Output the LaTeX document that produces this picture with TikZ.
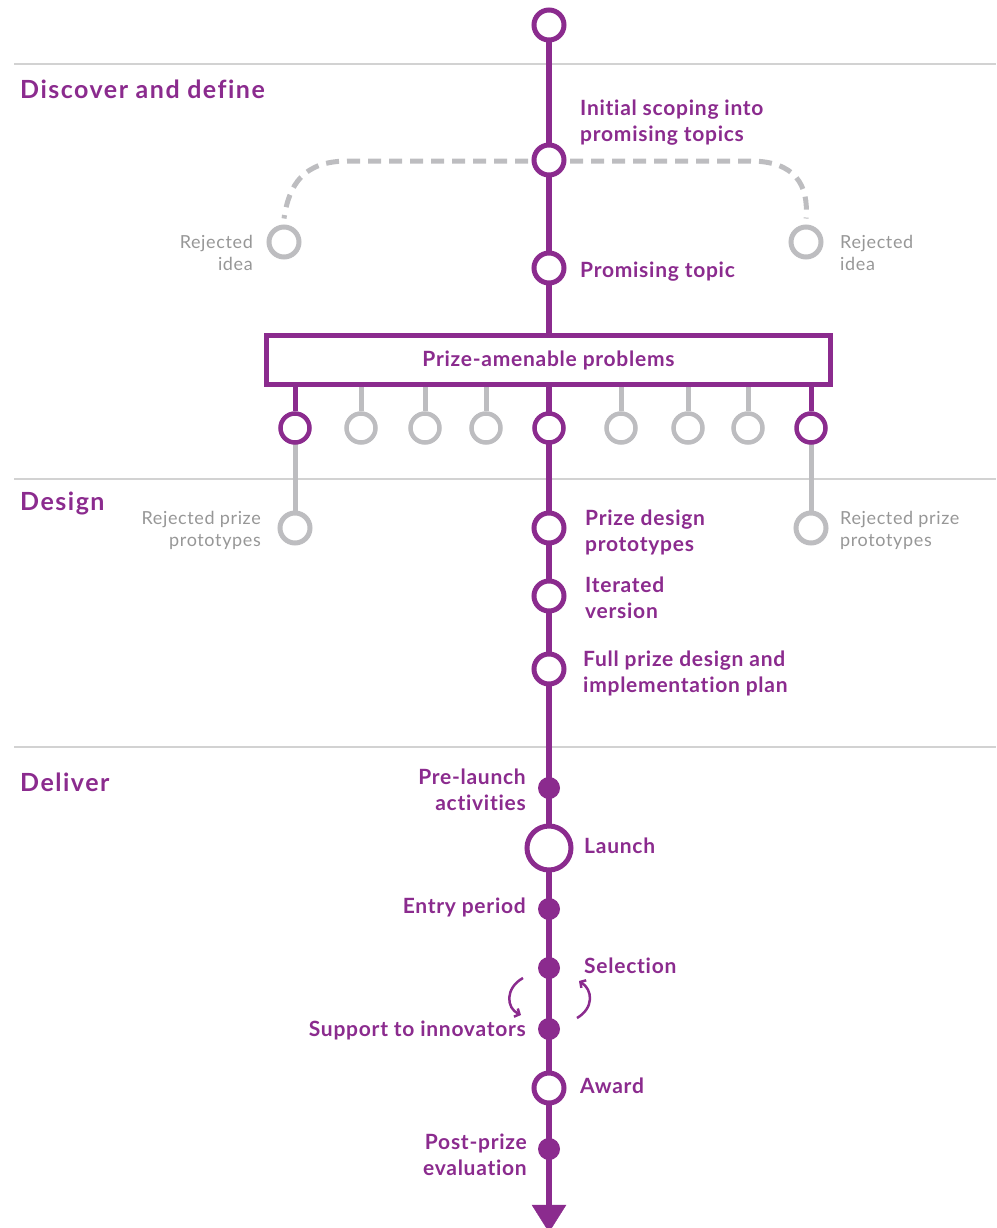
\documentclass[tikz,border=0pt]{standalone}
\usepackage{fontspec}
\setmainfont{Lato}
\newfontfamily\labfont[LetterSpace=3.5,Ligatures=NoCommon]{Lato}
\newfontfamily\headfont[LetterSpace=6,Ligatures=NoCommon]{Lato}
\newfontfamily\rejfont[LetterSpace=3.5,Ligatures=NoCommon]{Lato}
\usetikzlibrary{arrows.meta}
\definecolor{pur}{HTML}{8B2B8E}
\definecolor{gring}{HTML}{BDBDC0}
\definecolor{gtext}{HTML}{979797}
\definecolor{sep}{HTML}{D2D2D2}
\begin{document}
\begin{tikzpicture}[x=1pt,y=-1pt,
  ring/.style={circle,draw=pur,line width=5pt,fill=white,minimum size=30pt,inner sep=0},
  sring/.style={circle,draw=pur,line width=4.5pt,fill=white,minimum size=29pt,inner sep=0},
  gsring/.style={sring,draw=gring},
  gring/.style={ring,draw=gring},
  bigring/.style={ring,minimum size=44pt},
  dot/.style={circle,fill=pur,minimum size=22pt,inner sep=0},
  mainline/.style={draw=pur,line width=6.5pt},
  pstem/.style={draw=pur,line width=5pt},
  gstem/.style={draw=gring,line width=5pt},
  gdash/.style={draw=gring,line width=5pt,dash pattern=on 13pt off 8pt},
  seprule/.style={draw=sep,line width=1.5pt},
  head/.style={font=\headfont\bfseries\fontsize{25}{28}\selectfont,text=pur,inner sep=0,anchor=base west},
  lab/.style={font=\labfont\bfseries\fontsize{21}{26}\selectfont,text=pur,inner sep=0,align=left},
  labr/.style={lab,align=right},
  rej/.style={font=\rejfont\fontsize{18}{22}\selectfont,text=gtext,inner sep=0,align=left},
  rejr/.style={rej,align=right},
  probbox/.style={draw=pur,line width=5pt,fill=white,minimum width=564pt,minimum height=49pt,inner sep=0,
    font=\labfont\bfseries\fontsize{21}{24}\selectfont,text=pur},
  curv/.style={draw=pur,line width=2.5pt,-{Straight Barb[length=4pt,width=9pt]}}
]
\useasboundingbox (0,0) rectangle (996,1228);
% separators
\coordinate (s1a) at (14,64); \coordinate (s1b) at (996,64);
\coordinate (s2a) at (14,479); \coordinate (s2b) at (996,479);
\coordinate (s3a) at (14,747); \coordinate (s3b) at (996,747);
\draw[seprule] (s1a) -- (s1b);
\draw[seprule] (s2a) -- (s2b);
\draw[seprule] (s3a) -- (s3b);
% headings
\node[head] (h1) at (20,99) {Discover and define};
\node[head] (h2) at (20,510) {Design};
\node[head] (h3) at (20,791) {Deliver};
% helper coordinates
\coordinate (endpt) at (549,1232);
\coordinate (dl) at (348,161);
\coordinate (dr) at (750,161);
% main line
\draw[mainline] (549,25) -- (549,1205);
\draw[pur,fill=pur] (532,1205) -- (566,1205) -- (endpt) -- cycle;
% dashed rejected
\node[gring] (r1) at (284,242) {};
\node[gring] (r2) at (806,242) {};
\draw[gdash] (549,161) -- (dl) .. controls (303,161) and (289,185) .. ([yshift=6pt]r1.north);
\draw[gdash] (549,161) -- (dr) .. controls (795,161) and (809,185) .. ([yshift=6pt]r2.north);
% nodes
\node[ring] (t0) at (549,25) {};
\node[ring] (t1) at (549,160) {};
\node[ring] (t2) at (549,268) {};
\node[probbox] (box) at (548.5,360) {Prize-amenable problems};
% box circles
\foreach \n/\x/\s in {b2/361/gsring,b3/425/gsring,b4/486/gsring,b6/621/gsring,b7/688/gsring,b8/748/gsring}{
  \node[\s] (\n) at (\x,428) {};
  \draw[gstem] (box.south -| \n) -- (\n);
}
\node[gring] (r3) at (295,528) {};
\node[gring] (r4) at (811,528) {};
\draw[gstem] (295,428) -- (r3);
\draw[gstem] (811,428) -- (r4);
\foreach \n/\x in {b1/295,b9/811}{
  \node[sring] (\n) at (\x,428) {};
  \draw[pstem] (box.south -| \n) -- (\n);
}
\node[sring] (b5) at (549,428) {};
\node[ring] (d1) at (549,528) {};
\node[ring] (d2) at (549,596) {};
\node[ring] (d3) at (549,669) {};
\node[dot] (e1) at (549,788) {};
\node[bigring] (e2) at (549,848) {};
\node[dot] (e3) at (549,909) {};
\node[dot] (e4) at (549,968) {};
\node[dot] (e5) at (549,1029) {};
\node[ring] (e6) at (549,1088) {};
\node[dot] (e7) at (549,1149) {};
% curved arrows
\coordinate (ca1) at (523,978); \coordinate (ca2) at (521,1015);
\coordinate (cb1) at (577,1018); \coordinate (cb2) at (579,981);
\draw[curv] (ca1) .. controls (505,988) and (506,1008) .. (ca2);
\draw[curv] (cb1) .. controls (594,1008) and (593,990) .. (cb2);
% labels (multi-line: anchor at baseline of last line)
\node[lab,anchor=base west] (l1) at (580,142) {Initial scoping into\\promising topics};
\node[lab,anchor=base west] (l2) at (580,277) {Promising topic};
\node[rejr,anchor=base east] (lr1) at (253,270) {Rejected\\idea};
\node[rej,anchor=base west] (lr2) at (840,270) {Rejected\\idea};
\node[rejr,anchor=base east] (lr3) at (261,546) {Rejected prize\\prototypes};
\node[rej,anchor=base west] (lr4) at (840,546) {Rejected prize\\prototypes};
\node[lab,anchor=base west] (l3) at (585,551) {Prize design\\prototypes};
\node[lab,anchor=base west] (l4) at (585,618) {Iterated\\version};
\node[lab,anchor=base west] (l5) at (583,692) {Full prize design and\\implementation plan};
\node[labr,anchor=base east] (l6) at (526,810) {Pre-launch\\activities};
\node[lab,anchor=base west] (l7) at (584,853) {Launch};
\node[labr,anchor=base east] (l8) at (526,913) {Entry period};
\node[lab,anchor=base west] (l9) at (584,973) {Selection};
\node[labr,anchor=base east] (l10) at (526,1036) {Support to innovators};
\node[lab,anchor=base west] (l11) at (580,1093) {Award};
\node[labr,anchor=base east] (l12) at (527,1175) {Post-prize\\evaluation};
\end{tikzpicture}
\end{document}
